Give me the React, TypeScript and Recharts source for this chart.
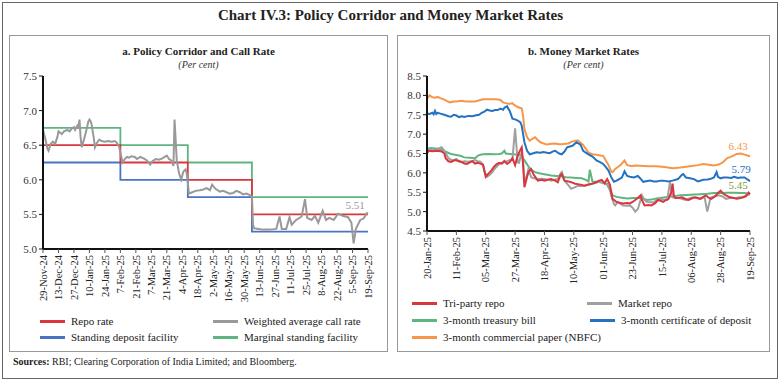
import React from "react";
import { Line, LineChart, XAxis, YAxis } from "recharts";

// panel a: policy corridor (days from 29-Nov-24)
const leftTickLabels = [
  "29-Nov-24", "13-Dec-24", "27-Dec-24", "10-Jan-25", "24-Jan-25", "7-Feb-25",
  "21-Feb-25", "7-Mar-25", "21-Mar-25", "4-Apr-25", "18-Apr-25", "2-May-25",
  "16-May-25", "30-May-25", "13-Jun-25", "27-Jun-25", "11-Jul-25", "25-Jul-25",
  "8-Aug-25", "22-Aug-25", "5-Sep-25", "19-Sep-25",
];
const policyDay = [0, 70, 131, 189, 294];
const repoRate = [6.5, 6.25, 6.0, 5.5, 5.5];
const sdfRate = [6.25, 6.0, 5.75, 5.25, 5.25];
const msfRate = [6.75, 6.5, 6.25, 5.75, 5.75];

const wacrDay = [
  0, 2, 4, 5, 7, 9, 11, 13, 14, 17, 19, 22, 24, 26, 28, 29, 31, 32, 33, 34, 35,
  37, 39, 41, 42, 43, 44, 46, 47, 49, 51, 53, 56, 59, 62, 65, 67, 69, 71, 72, 74,
  76, 78, 80, 83, 85, 88, 91, 94, 97, 99, 102, 105, 108, 110, 112, 114, 116, 118,
  119, 121, 123, 125, 127, 129, 130, 132, 135, 138, 142, 145, 148, 151, 153, 156,
  160, 163, 166, 169, 172, 175, 178, 181, 184, 187, 189, 190, 191, 195, 199, 205,
  211, 214, 216, 220, 223, 225, 229, 234, 237, 239, 243, 246, 249, 253, 256, 259,
  263, 267, 271, 276, 279, 281, 283, 287, 290, 293, 294,
];
const wacrRate = [
  6.72, 6.6, 6.45, 6.42, 6.52, 6.55, 6.52, 6.62, 6.7, 6.66, 6.7, 6.72, 6.7, 6.74,
  6.76, 6.72, 6.78, 6.74, 6.87, 6.62, 6.47, 6.58, 6.7, 6.84, 6.87, 6.85, 6.8, 6.6,
  6.47, 6.54, 6.58, 6.56, 6.55, 6.56, 6.55, 6.56, 6.53, 6.47, 6.32, 6.25, 6.3,
  6.33, 6.32, 6.34, 6.33, 6.3, 6.33, 6.31, 6.28, 6.22, 6.27, 6.3, 6.29, 6.31,
  6.33, 6.35, 6.3, 6.28, 6.2, 6.87, 6.28, 6.1, 6.0, 6.12, 6.15, 6.1, 5.8, 5.82,
  5.84, 5.85, 5.86, 5.88, 5.85, 5.93, 5.87, 5.83, 5.84, 5.82, 5.8, 5.81, 5.84,
  5.82, 5.79, 5.8, 5.78, 5.76, 5.35, 5.3, 5.29, 5.28, 5.28, 5.29, 5.47, 5.29,
  5.29, 5.46, 5.35, 5.42, 5.47, 5.72, 5.45, 5.42, 5.48, 5.38, 5.55, 5.42, 5.45,
  5.42, 5.51, 5.48, 5.46, 5.38, 5.08, 5.29, 5.42, 5.44, 5.52, 5.51,
];

// panel b: money market rates (days from 20-Jan-25)
const rightTickLabels = [
  "20-Jan-25", "11-Feb-25", "05-Mar-25", "27-Mar-25", "18-Apr-25", "10-May-25",
  "01-Jun-25", "23-Jun-25", "15-Jul-25", "06-Aug-25", "28-Aug-25", "19-Sep-25",
];

const cpDay = [
  0, 2, 4, 6, 8, 10, 13, 15, 17, 20, 22, 26, 29, 31, 36, 40, 42, 48, 52, 55, 57,
  59, 62, 64, 65, 68, 71, 72, 73, 75, 77, 79, 81, 83, 85, 88, 90, 93, 96, 99,
  101, 104, 106, 108, 110, 113, 115, 117, 119, 121, 124, 127, 130, 132, 134, 136,
  138, 139, 141, 143, 145, 147, 148, 150, 153, 157, 162, 167, 172, 178, 184, 190,
  197, 203, 207, 211, 215, 219, 222, 225, 228, 232, 235, 238, 240, 242,
];
const cpRate = [
  7.92, 8.0, 7.95, 7.94, 7.96, 7.93, 7.89, 7.85, 7.82, 7.84, 7.84, 7.86, 7.84,
  7.84, 7.84, 7.88, 7.9, 7.9, 7.9, 7.88, 7.82, 7.8, 7.78, 7.8, 7.76, 7.7, 7.66,
  7.47, 7.13, 6.92, 6.83, 6.88, 6.92, 6.85, 6.79, 6.75, 6.73, 6.75, 6.76, 6.74,
  6.74, 6.75, 6.76, 6.8, 6.82, 6.84, 6.78, 6.72, 6.62, 6.52, 6.48, 6.47, 6.45,
  6.44, 6.32, 6.2, 6.04, 6.02, 6.1, 6.15, 6.2, 6.28, 6.32, 6.2, 6.18, 6.19, 6.18,
  6.17, 6.17, 6.15, 6.12, 6.14, 6.17, 6.2, 6.23, 6.21, 6.19, 6.22, 6.28, 6.38,
  6.42, 6.49, 6.5, 6.47, 6.45, 6.43,
];

const cdDay = [
  0, 2, 4, 5, 6, 7, 8, 10, 13, 16, 18, 20, 22, 24, 26, 28, 31, 34, 36, 39, 41,
  43, 45, 47, 49, 51, 53, 55, 57, 58, 60, 61, 62, 64, 66, 68, 70, 71, 72, 73, 75,
  77, 79, 82, 85, 87, 90, 92, 94, 96, 99, 101, 103, 105, 107, 109, 112, 115, 117,
  119, 121, 124, 127, 130, 132, 134, 136, 138, 140, 142, 144, 146, 148, 150, 152,
  155, 158, 160, 162, 165, 167, 170, 172, 175, 177, 181, 184, 188, 191, 192, 194,
  197, 200, 203, 207, 210, 212, 215, 217, 218, 220, 222, 225, 228, 230, 233, 235,
  238, 240, 242,
];
const cdRate = [
  7.53, 7.52, 7.55, 7.51, 7.6, 7.52, 7.55, 7.53, 7.5, 7.46, 7.45, 7.5, 7.48,
  7.44, 7.46, 7.44, 7.47, 7.46, 7.48, 7.5, 7.55, 7.58, 7.63, 7.61, 7.6, 7.62,
  7.62, 7.66, 7.63, 7.68, 7.72, 7.65, 7.6, 7.4, 7.38, 7.35, 7.3, 7.21, 7.0, 6.79,
  6.57, 6.48, 6.5, 6.53, 6.52, 6.54, 6.52, 6.51, 6.55, 6.57, 6.5, 6.48, 6.55,
  6.66, 6.68, 6.7, 6.79, 6.73, 6.57, 6.52, 6.48, 6.42, 6.32, 6.27, 6.23, 6.15,
  6.06, 5.89, 5.77, 5.8, 5.84, 5.88, 6.04, 5.92, 5.9, 5.88, 5.92, 5.85, 5.77,
  5.79, 5.8, 5.78, 5.78, 5.8, 5.8, 5.78, 5.8, 5.84, 5.95, 5.97, 5.88, 5.86, 5.84,
  5.78, 5.82, 5.83, 5.84, 5.88, 6.02, 5.9, 5.86, 5.88, 5.88, 5.87, 5.9, 5.87,
  5.88, 5.88, 5.83, 5.79,
];

const tbillDay = [
  0, 3, 6, 9, 11, 14, 17, 19, 22, 25, 28, 32, 36, 38, 40, 42, 46, 50, 54, 56, 58,
  59, 62, 65, 68, 70, 72, 74, 76, 78, 81, 84, 87, 90, 93, 97, 101, 104, 108, 112,
  116, 119, 121, 122, 124, 127, 130, 133, 135, 137, 139, 142, 146, 150, 155, 160,
  165, 168, 172, 176, 180, 185, 190, 195, 200, 205, 210, 215, 220, 225, 230, 235,
  238, 240, 242,
];
const tbillRate = [
  6.62, 6.64, 6.63, 6.62, 6.6, 6.55, 6.5, 6.48, 6.46, 6.44, 6.4, 6.39, 6.38,
  6.44, 6.47, 6.48, 6.49, 6.48, 6.49, 6.5, 6.57, 6.5, 6.49, 6.48, 6.47, 6.46,
  6.38, 6.27, 6.17, 6.08, 6.02, 5.99, 5.97, 5.95, 5.93, 5.92, 5.91, 5.89, 5.88,
  5.87, 5.86, 5.82, 5.78, 6.08, 5.77, 5.77, 5.76, 5.74, 5.72, 5.6, 5.42, 5.38,
  5.36, 5.34, 5.35, 5.35, 5.3, 5.31, 5.34, 5.36, 5.38, 5.4, 5.42, 5.43, 5.44,
  5.45, 5.46, 5.48, 5.48, 5.49, 5.49, 5.48, 5.48, 5.47, 5.45,
];

const trepsDay = [
  0, 1, 4, 8, 11, 13, 14, 16, 18, 21, 24, 26, 28, 30, 32, 34, 36, 38, 40, 42, 44,
  46, 48, 50, 52, 54, 56, 58, 60, 62, 64, 66, 68, 70, 71, 72, 73, 75, 76, 78, 80,
  83, 86, 88, 91, 93, 96, 98, 100, 101, 103, 106, 108, 111, 113, 116, 118, 121,
  123, 126, 129, 131, 133, 135, 137, 139, 142, 145, 147, 150, 152, 154, 156, 158,
  160, 161, 163, 166, 168, 171, 173, 175, 177, 179, 181, 183, 184, 185, 186, 189,
  191, 194, 196, 199, 201, 203, 205, 207, 209, 211, 213, 216, 218, 220, 222, 224,
  227, 230, 232, 235, 237, 239, 241, 242,
];
const trepsRate = [
  6.49, 6.57, 6.56, 6.57, 6.55, 6.5, 6.38, 6.3, 6.28, 6.33, 6.3, 6.28, 6.24,
  6.23, 6.27, 6.3, 6.24, 6.26, 6.24, 6.21, 5.9, 5.98, 6.05, 6.15, 6.22, 6.26,
  6.24, 6.31, 6.23, 6.28, 6.38, 6.2, 6.45, 6.6, 6.66, 6.2, 5.63, 5.9, 6.02, 6.1,
  5.95, 5.8, 5.82, 5.8, 5.83, 5.84, 5.8, 5.76, 5.95, 5.97, 5.8, 5.78, 5.76, 5.72,
  5.71, 5.69, 5.67, 5.7, 5.71, 5.75, 5.8, 5.82, 5.73, 5.84, 5.7, 5.33, 5.25,
  5.22, 5.21, 5.22, 5.21, 5.25, 5.3, 5.35, 5.42, 5.3, 5.16, 5.17, 5.16, 5.22,
  5.3, 5.28, 5.25, 5.3, 5.33, 5.5, 5.72, 5.4, 5.35, 5.36, 5.37, 5.32, 5.3, 5.35,
  5.37, 5.35, 5.33, 5.38, 5.42, 5.36, 5.33, 5.4, 5.48, 5.54, 5.46, 5.42, 5.37,
  5.35, 5.33, 5.35, 5.37, 5.4, 5.49, 5.45,
];

const mktRepoDay = [
  0, 2, 4, 6, 8, 11, 13, 15, 16, 18, 20, 22, 24, 26, 28, 31, 34, 36, 38, 40, 42,
  43, 45, 47, 49, 51, 53, 55, 58, 60, 62, 64, 66, 67, 68, 69, 71, 72, 73, 75, 76,
  78, 80, 83, 86, 88, 91, 93, 96, 98, 100, 101, 103, 106, 108, 111, 113, 116,
  118, 121, 123, 126, 129, 132, 135, 137, 138, 140, 141, 143, 145, 147, 150, 152,
  154, 156, 158, 160, 161, 163, 165, 168, 170, 172, 174, 177, 180, 182, 183, 184,
  187, 189, 192, 194, 197, 199, 202, 204, 206, 208, 210, 212, 213, 216, 219, 222,
  224, 227, 229, 232, 234, 237, 239, 241, 242,
];
const mktRepoRate = [
  6.57, 6.62, 6.58, 6.6, 6.62, 6.66, 6.57, 6.45, 6.38, 6.34, 6.32, 6.36, 6.3,
  6.28, 6.3, 6.29, 6.31, 6.33, 6.3, 6.29, 6.21, 6.04, 5.9, 5.95, 6.02, 6.12,
  6.19, 6.25, 6.27, 6.3, 6.33, 6.35, 7.15, 6.7, 6.27, 6.26, 6.55, 6.3, 5.76,
  5.95, 6.1, 5.89, 5.86, 5.84, 5.85, 5.84, 5.82, 5.8, 5.83, 5.84, 5.98, 6.02,
  5.8, 5.68, 5.59, 5.63, 5.67, 5.66, 5.67, 5.7, 5.71, 5.74, 5.77, 5.74, 5.69,
  5.55, 5.42, 5.2, 5.16, 5.25, 5.2, 5.16, 5.15, 5.16, 5.1, 5.0, 5.07, 5.3, 5.42,
  5.3, 5.25, 5.24, 5.25, 5.3, 5.33, 5.31, 5.3, 5.76, 5.55, 5.37, 5.36, 5.35,
  5.32, 5.3, 5.35, 5.37, 5.35, 5.33, 5.36, 5.37, 5.0, 5.3, 5.37, 5.4, 5.42, 5.38,
  5.33, 5.35, 5.35, 5.36, 5.37, 5.38, 5.42, 5.44, 5.45,
];

const FONT = "'Liberation Serif', 'Times New Roman', serif";

const toPoints = (days: number[], vals: number[]) =>
  days.map((d, i) => ({ d, v: vals[i] }));

const RotatedTick = (props: any) => {
  const { x, y, payload, labels, step } = props;
  const label = labels[Math.round(payload.value / step)];
  return (
    <text
      x={x}
      y={y}
      transform={`rotate(-90, ${x}, ${y})`}
      textAnchor="end"
      dy="0.35em"
      fontSize={10.5}
      fontFamily={FONT}
      fill="#222"
    >
      {label}
    </text>
  );
};

const endLabel = (text: string, color: string, dx: number, dy: number, last: number) =>
  (props: any) => {
    if (props.index !== last) return null;
    return (
      <text
        key="end"
        x={props.x + dx}
        y={props.y + dy}
        textAnchor="middle"
        fontSize={11}
        fontFamily={FONT}
        fill={color}
      >
        {text}
      </text>
    );
  };

const LegendItem = ({ x, y, color, text }: { x: number; y: number; color: string; text: string }) => (
  <div
    style={{
      position: "absolute",
      left: x,
      top: y - 7,
      height: 14,
      display: "flex",
      alignItems: "center",
      fontFamily: FONT,
      fontSize: 11,
      color: "#222",
      whiteSpace: "nowrap",
    }}
  >
    <span style={{ display: "inline-block", width: 25, height: 3, background: color, marginRight: 6 }} />
    {text}
  </div>
);

const axisTick = { fontSize: 11, fontFamily: FONT, fill: "#333" };

export default function App() {
  const leftTicks = leftTickLabels.map((_, i) => i * 14);
  const rightTicks = rightTickLabels.map((_, i) => i * 22);

  const repo = toPoints(policyDay, repoRate);
  const sdf = toPoints(policyDay, sdfRate);
  const msf = toPoints(policyDay, msfRate);
  const wacr = toPoints(wacrDay, wacrRate);

  const cp = toPoints(cpDay, cpRate);
  const cd = toPoints(cdDay, cdRate);
  const tbill = toPoints(tbillDay, tbillRate);
  const treps = toPoints(trepsDay, trepsRate);
  const mkt = toPoints(mktRepoDay, mktRepoRate);

  return (
    <div
      style={{
        position: "absolute",
        left: 0,
        top: 0,
        width: 781,
        height: 382,
        background: "#fff",
        fontFamily: FONT,
      }}
    >
      {/* outer frame */}
      <div style={{ position: "absolute", left: 2, top: 2, width: 774, height: 375, border: "1px solid #666" }} />
      <div
        style={{
          position: "absolute",
          left: 0,
          top: 7,
          width: 781,
          textAlign: "center",
          fontSize: 15,
          fontWeight: "bold",
          color: "#222",
        }}
      >
        Chart IV.3: Policy Corridor and Money Market Rates
      </div>

      {/* panel a */}
      <div style={{ position: "absolute", left: 9, top: 35, width: 377, height: 315, border: "1px solid #999" }} />
      <div style={{ position: "absolute", left: 9, top: 45, width: 379, textAlign: "center", fontSize: 11, fontWeight: "bold", color: "#222" }}>
        a. Policy Corridor and Call Rate
      </div>
      <div style={{ position: "absolute", left: 9, top: 59, width: 379, textAlign: "center", fontSize: 10, fontStyle: "italic", color: "#333" }}>
        (Per cent)
      </div>
      <div style={{ position: "absolute", left: 9, top: 60 }}>
        <LineChart width={370} height={250} margin={{ top: 16, right: 11, bottom: 6, left: 0 }}>
          <XAxis
            dataKey="d"
            type="number"
            domain={[0, 294]}
            ticks={leftTicks}
            interval={0}
            height={55}
            axisLine={{ stroke: "#111", strokeWidth: 2 }}
            tickLine={{ stroke: "#555" }}
            tickSize={4}
            tick={<RotatedTick labels={leftTickLabels} step={14} />}
          />
          <YAxis
            type="number"
            domain={[5, 7.5]}
            ticks={[5, 5.5, 6, 6.5, 7, 7.5]}
            width={34}
            axisLine={{ stroke: "#111", strokeWidth: 2 }}
            tickLine={{ stroke: "#111" }}
            tickSize={4}
            tickFormatter={(v: number) => v.toFixed(1)}
            tick={axisTick}
          />
          <Line data={msf} dataKey="v" type="stepAfter" stroke="#5fb57f" strokeWidth={1.8} dot={false} isAnimationActive={false} />
          <Line data={sdf} dataKey="v" type="stepAfter" stroke="#4a73c4" strokeWidth={1.8} dot={false} isAnimationActive={false} />
          <Line data={repo} dataKey="v" type="stepAfter" stroke="#d9363e" strokeWidth={1.8} dot={false} isAnimationActive={false} />
          <Line
            data={wacr}
            dataKey="v"
            type="linear"
            stroke="#999"
            strokeWidth={2}
            dot={false}
            isAnimationActive={false}
            label={endLabel("5.51", "#999", -13, -5, wacr.length - 1)}
          />
        </LineChart>
      </div>
      <LegendItem x={40} y={321} color="#d9363e" text="Repo rate" />
      <LegendItem x={213} y={321} color="#999" text="Weighted average call rate" />
      <LegendItem x={40} y={337} color="#4a73c4" text="Standing deposit facility" />
      <LegendItem x={213} y={337} color="#5fb57f" text="Marginal standing facility" />

      {/* panel b */}
      <div style={{ position: "absolute", left: 397, top: 35, width: 371, height: 315, border: "1px solid #999" }} />
      <div style={{ position: "absolute", left: 397, top: 45, width: 373, textAlign: "center", fontSize: 11, fontWeight: "bold", color: "#222" }}>
        b. Money Market Rates
      </div>
      <div style={{ position: "absolute", left: 397, top: 59, width: 373, textAlign: "center", fontSize: 10, fontStyle: "italic", color: "#333" }}>
        (Per cent)
      </div>
      <div style={{ position: "absolute", left: 397, top: 60 }}>
        <LineChart width={370} height={235} margin={{ top: 16, right: 17, bottom: 9, left: 0 }}>
          <XAxis
            dataKey="d"
            type="number"
            domain={[0, 242]}
            ticks={rightTicks}
            interval={0}
            height={55}
            axisLine={{ stroke: "#111", strokeWidth: 2 }}
            tickLine={{ stroke: "#555" }}
            tickSize={4}
            tick={<RotatedTick labels={rightTickLabels} step={22} />}
          />
          <YAxis
            type="number"
            domain={[4.5, 8.5]}
            ticks={[4.5, 5, 5.5, 6, 6.5, 7, 7.5, 8, 8.5]}
            width={30}
            axisLine={{ stroke: "#111", strokeWidth: 2 }}
            tickLine={{ stroke: "#111" }}
            tickSize={4}
            tickFormatter={(v: number) => v.toFixed(1)}
            tick={axisTick}
          />
          <Line
            data={cp}
            dataKey="v"
            stroke="#f7964a"
            strokeWidth={2}
            dot={false}
            isAnimationActive={false}
            label={endLabel("6.43", "#f7964a", -12, -6, cp.length - 1)}
          />
          <Line
            data={cd}
            dataKey="v"
            stroke="#2472c0"
            strokeWidth={2}
            dot={false}
            isAnimationActive={false}
            label={endLabel("5.79", "#2472c0", -9, -8, cd.length - 1)}
          />
          <Line
            data={tbill}
            dataKey="v"
            stroke="#5fb57f"
            strokeWidth={2}
            dot={false}
            isAnimationActive={false}
            label={endLabel("5.45", "#7f9a3a", -12, -5, tbill.length - 1)}
          />
          <Line data={mkt} dataKey="v" stroke="#a0a0a0" strokeWidth={2} dot={false} isAnimationActive={false} />
          <Line data={treps} dataKey="v" stroke="#d9363e" strokeWidth={2} dot={false} isAnimationActive={false} />
        </LineChart>
      </div>
      <LegendItem x={412} y={303} color="#d9363e" text="Tri-party repo" />
      <LegendItem x={587} y={303} color="#a0a0a0" text="Market repo" />
      <LegendItem x={412} y={320} color="#5fb57f" text="3-month treasury bill" />
      <LegendItem x={590} y={320} color="#2472c0" text="3-month certificate of deposit" />
      <LegendItem x={412} y={337} color="#f7964a" text="3-month commercial paper (NBFC)" />

      <div style={{ position: "absolute", left: 13, top: 356, fontSize: 10, color: "#222" }}>
        <b>Sources:</b> RBI; Clearing Corporation of India Limited; and Bloomberg.
      </div>
    </div>
  );
}
